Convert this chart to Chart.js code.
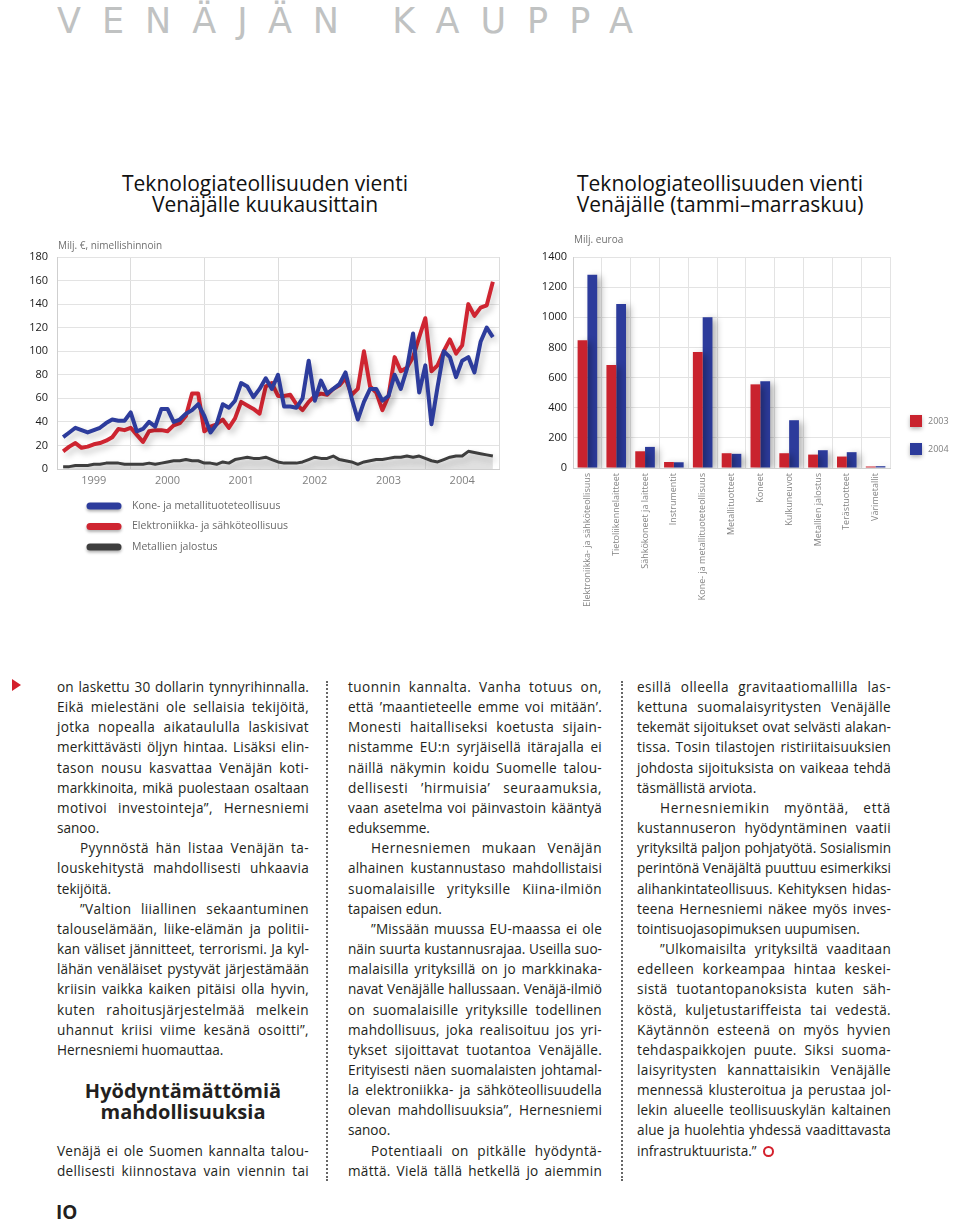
<!DOCTYPE html>
<html lang="fi">
<head>
<meta charset="utf-8">
<title>Venäjän kauppa</title>
<script src="https://cdn.jsdelivr.net/npm/chart.js@4.4.1/dist/chart.umd.min.js"></script>
<style>
html, body { margin: 0; padding: 0; background: #fff; }
body { width: 960px; height: 1221px; position: relative; overflow: hidden; font-family: 'Open Sans', sans-serif; color: #231f20; }
.abs { position: absolute; }
#kicker { left: 57px; top: 1px; font-family: 'DejaVu Sans', sans-serif; font-size: 35px; line-height: 40px; letter-spacing: 21px; color: #c0c2c2; white-space: nowrap; }
.ctitle { font-size: 21px; font-weight: 500; line-height: 21px; text-align: center; width: 440px; color: #111; }
.col { font-size: 13.6px; line-height: 20.17px; }
.ln { white-space: nowrap; height: 20.17px; }
.ln span { display: inline-block; white-space: nowrap; }
.head { font-size: 20px; font-weight: 700; line-height: 21px; text-align: center; width: 252px; }
.dots { width: 0; border-left: 2px dotted #666; }
.ring { display: inline-block; width: 7px; height: 7px; border: 2.5px solid #d4202c; border-radius: 50%; margin-left: 6px; vertical-align: -1px; }
</style>
</head>
<body>

<div id="kicker" class="abs">VENÄJÄN KAUPPA</div>

<div class="abs ctitle" style="left:45px; top:173px;">Teknologiateollisuuden vienti<br>Venäjälle kuukausittain</div>
<div class="abs ctitle" style="left:500px; top:173px;">Teknologiateollisuuden vienti<br>Venäjälle (tammi–marraskuu)</div>

<div class="abs" style="left:0; top:230px; width:520px; height:330px;"><canvas id="lineChart"></canvas></div>
<div class="abs" style="left:520px; top:230px; width:440px; height:400px;"><canvas id="barChart"></canvas></div>

<div class="abs" style="left:12px; top:679px; width:0; height:0; border-left:9px solid #d4202c; border-top:6px solid transparent; border-bottom:6px solid transparent;"></div>

<div id="col1a" class="abs col" style="left:57px; top:677px; width:252px;"></div>
<div class="abs head" style="left:57px; top:1080px;">Hyödyntämättömiä<br>mahdollisuuksia</div>
<div id="col1b" class="abs col" style="left:57px; top:1141px; width:252px;"></div>
<div id="col2" class="abs col" style="left:348px; top:677px; width:254px;"></div>
<div id="col3" class="abs col" style="left:637px; top:677px; width:254px;"></div>

<div class="abs dots" style="left:326px; top:681px; height:500px;"></div>
<div class="abs dots" style="left:621px; top:681px; height:500px;"></div>

<div class="abs" style="left:56px; top:1200px; font-size:19px; font-weight:700; line-height:24px;">IO</div>

<script>
// ---- kuukausiviennin data (milj. €), tammi 1999 – marras 2004 ----
const years = ['1999', '2000', '2001', '2002', '2003', '2004'];

const koneMetalli = [
    27, 31, 35, 33, 31, 33, 35, 39, 42, 41, 41, 48,
    32, 34, 40, 36, 51, 51, 40, 42, 47, 50, 55, 45,
    31, 38, 55, 52, 58, 73, 70, 61, 68, 77, 68, 80,
    53, 53, 52, 60, 92, 58, 75, 64, 68, 72, 82, 60,
    42, 57, 68, 68, 58, 62, 80, 68, 85, 115, 65, 88,
    38, 70, 100, 95, 78, 92, 95, 82, 108, 120, 112
];
const elektroniikka = [
    15, 19, 22, 18, 19, 21, 22, 24, 27, 34, 33, 35,
    29, 23, 32, 33, 33, 32, 37, 39, 45, 64, 64, 32,
    36, 38, 42, 35, 43, 57, 54, 51, 47, 70, 73, 62,
    62, 63, 55, 50, 57, 62, 64, 63, 68, 71, 77, 63,
    68, 100, 70, 65, 50, 62, 95, 83, 86, 95, 112, 128,
    83, 88, 100, 110, 98, 105, 140, 130, 137, 139, 159
];
const metallienJalostus = [
    2, 2, 3, 3, 3, 4, 4, 5, 5, 5, 4, 4,
    4, 4, 5, 4, 5, 6, 7, 7, 8, 7, 7, 5,
    5, 4, 6, 5, 8, 9, 10, 9, 9, 10, 8, 6,
    5, 5, 5, 6, 8, 10, 9, 9, 11, 8, 7, 6,
    4, 6, 7, 8, 8, 9, 10, 10, 11, 10, 11, 9,
    7, 6, 8, 10, 11, 11, 15, 14, 13, 12, 11
];

// ---- toimialoittain (milj. euroa) ----
const toimialat = [
    'Elektroniikka- ja sähköteollisuus', 'Tietoliikennelaitteet', 'Sähkökoneet ja laitteet',
    'Instrumentit', 'Kone- ja metallituoteteollisuus', 'Metallituotteet', 'Koneet',
    'Kulkuneuvot', 'Metallien jalostus', 'Terästuotteet', 'Värimetallit'
];
const vienti2003 = [847, 684, 111, 40, 769, 98, 555, 98, 89, 76, 10];
const vienti2004 = [1282, 1088, 140, 38, 1001, 94, 575, 317, 118, 105, 12];

const yTicksLeft = [0, 20, 40, 60, 80, 100, 120, 140, 160, 180];
const yTicksRight = [0, 200, 400, 600, 800, 1000, 1200, 1400];

Chart.defaults.font.family = "'Open Sans', sans-serif";
Chart.defaults.animation = false;

const toPoints = arr => arr.map((v, i) => ({ x: i + 1, y: v }));

// pehmeä varjo viivoille ja pylväille
const softShadow = {
    id: 'softShadow',
    beforeDatasetsDraw(chart, args, opts) {
        const ctx = chart.ctx;
        ctx.save();
        ctx.shadowColor = opts.color || 'rgba(0,0,0,0.25)';
        ctx.shadowBlur = opts.blur || 6;
        ctx.shadowOffsetX = opts.dx || 3;
        ctx.shadowOffsetY = opts.dy || 3;
    },
    afterDatasetsDraw(chart) {
        chart.ctx.restore();
    }
};

// yksikköteksti kuva-alueen yläpuolelle
const unitLabel = {
    id: 'unitLabel',
    afterDraw(chart, args, opts) {
        if (!opts.text) return;
        const { ctx, chartArea } = chart;
        ctx.save();
        ctx.fillStyle = '#707070';
        ctx.font = "10px 'Open Sans', sans-serif";
        ctx.textBaseline = 'middle';
        ctx.fillText(opts.text, chartArea.left + 1, chartArea.top + opts.dy);
        ctx.restore();
    }
};

// selite viivakaavion alle
const lineLegend = {
    id: 'lineLegend',
    afterDraw(chart) {
        const { ctx, chartArea } = chart;
        ctx.save();
        chart.data.datasets.forEach((ds, i) => {
            const y = chartArea.bottom + 37 + i * 20.5;
            ctx.shadowColor = 'rgba(0,0,0,0.3)';
            ctx.shadowBlur = 3;
            ctx.shadowOffsetY = 2;
            ctx.strokeStyle = ds.borderColor;
            ctx.lineWidth = 7;
            ctx.lineCap = 'round';
            ctx.beginPath();
            ctx.moveTo(chartArea.left + 33, y);
            ctx.lineTo(chartArea.left + 61, y);
            ctx.stroke();
            ctx.shadowColor = 'transparent';
            ctx.fillStyle = '#6a6a6a';
            ctx.font = "10.5px 'Open Sans', sans-serif";
            ctx.textBaseline = 'middle';
            ctx.fillText(ds.label, chartArea.left + 75, y);
        });
        ctx.restore();
    }
};

// selite pylväskaavion oikealle puolelle
const sideLegend = {
    id: 'sideLegend',
    afterDraw(chart) {
        const { ctx, chartArea } = chart;
        ctx.save();
        chart.data.datasets.forEach((ds, i) => {
            const y = chartArea.bottom - 47 + i * 28;
            ctx.shadowColor = 'rgba(0,0,0,0.3)';
            ctx.shadowBlur = 4;
            ctx.shadowOffsetY = 2;
            ctx.fillStyle = ds.backgroundColor;
            ctx.fillRect(chartArea.right + 20, y - 6, 12, 12);
            ctx.shadowColor = 'transparent';
            ctx.fillStyle = '#808080';
            ctx.font = "9px 'Open Sans', sans-serif";
            ctx.textBaseline = 'middle';
            ctx.fillText(ds.label, chartArea.right + 38, y);
        });
        ctx.restore();
    }
};

new Chart(document.getElementById('lineChart'), {
    type: 'line',
    data: {
        datasets: [
            { label: 'Kone- ja metallituoteteollisuus', data: toPoints(koneMetalli), borderColor: '#2d3c9c', borderWidth: 4 },
            { label: 'Elektroniikka- ja sähköteollisuus', data: toPoints(elektroniikka), borderColor: '#cf2531', borderWidth: 4 },
            { label: 'Metallien jalostus', data: toPoints(metallienJalostus), borderColor: '#3e3e3e', borderWidth: 3,
              fill: 'origin', backgroundColor: 'rgba(200,200,200,0.35)' }
        ]
    },
    options: {
        responsive: true,
        maintainAspectRatio: false,
        layout: { padding: { top: 27, right: 21, bottom: 65, left: 0 } },
        elements: { point: { radius: 0 }, line: { tension: 0, borderJoinStyle: 'round' } },
        plugins: {
            legend: { display: false },
            tooltip: { enabled: false },
            softShadow: { color: 'rgba(0,0,0,0.22)', blur: 6, dx: 3, dy: 4 },
            unitLabel: { text: 'Milj. €, nimellishinnoin', dy: -11 }
        },
        scales: {
            x: {
                type: 'linear', min: 0, max: 72,
                afterBuildTicks: s => { s.ticks = Array.from({ length: 13 }, (_, k) => ({ value: k * 6 })); },
                afterFit: s => { s.height = 26; },
                ticks: {
                    autoSkip: false, maxRotation: 0, padding: 5, color: '#808080',
                    font: { size: 11 },
                    callback: v => (v % 12 === 6 ? years[(v - 6) / 12] : '')
                },
                grid: { drawTicks: false, color: c => (c.tick && c.tick.value % 12 === 0 ? '#dcdcdc' : 'transparent') },
                border: { color: '#cfcfcf' }
            },
            y: {
                min: 0, max: 180,
                afterBuildTicks: s => { s.ticks = yTicksLeft.map(v => ({ value: v })); },
                afterFit: s => { s.width = 57; },
                ticks: { padding: 9, color: '#1a1a1a', font: { size: 11 }, callback: v => String(v) },
                grid: { drawTicks: false, color: '#e3e3e3' },
                border: { color: '#cfcfcf' }
            }
        }
    },
    plugins: [softShadow, unitLabel, lineLegend]
});

new Chart(document.getElementById('barChart'), {
    type: 'bar',
    data: {
        labels: toimialat,
        datasets: [
            { label: '2003', data: vienti2003, backgroundColor: '#c9232e' },
            { label: '2004', data: vienti2004, backgroundColor: '#2c3b9b' }
        ]
    },
    options: {
        responsive: true,
        maintainAspectRatio: false,
        layout: { padding: { top: 27, right: 70, bottom: 5, left: 0 } },
        datasets: { bar: { categoryPercentage: 0.68, barPercentage: 1.0 } },
        plugins: {
            legend: { display: false },
            tooltip: { enabled: false },
            softShadow: { color: 'rgba(0,0,0,0.3)', blur: 7, dx: 4, dy: 2 },
            unitLabel: { text: 'Milj. euroa', dy: -17 }
        },
        scales: {
            x: {
                afterFit: s => { s.height = 157; },
                ticks: { autoSkip: false, minRotation: 90, maxRotation: 90, padding: 5, color: '#858585', font: { size: 9 } },
                grid: { drawTicks: false, color: '#e3e3e3' },
                border: { color: '#cfcfcf' }
            },
            y: {
                min: 0, max: 1400,
                afterBuildTicks: s => { s.ticks = yTicksRight.map(v => ({ value: v })); },
                afterFit: s => { s.width = 53; },
                ticks: { padding: 6, color: '#1a1a1a', font: { size: 11 }, callback: v => String(v) },
                grid: { drawTicks: false, color: '#e3e3e3' },
                border: { color: '#cfcfcf' }
            }
        }
    },
    plugins: [softShadow, unitLabel, sideLegend]
});

// ---- leipäteksti: '>' = sisennys, '|' = kappaleen viimeinen rivi ----
const col1a = [
    'on laskettu 30 dollarin tynnyrihinnalla.',
    'Eikä mielestäni ole sellaisia tekijöitä,',
    'jotka nopealla aikataululla laskisivat',
    'merkittävästi öljyn hintaa. Lisäksi elin-',
    'tason nousu kasvattaa Venäjän koti-',
    'markkinoita, mikä puolestaan osaltaan',
    'motivoi investointeja”, Hernesniemi',
    'sanoo.|',
    '>Pyynnöstä hän listaa Venäjän ta-',
    'louskehitystä mahdollisesti uhkaavia',
    'tekijöitä.|',
    '>”Valtion liiallinen sekaantuminen',
    'talouselämään, liike-elämän ja politii-',
    'kan väliset jännitteet, terrorismi. Ja kyl-',
    'lähän venäläiset pystyvät järjestämään',
    'kriisin vaikka kaiken pitäisi olla hyvin,',
    'kuten rahoitusjärjestelmää melkein',
    'uhannut kriisi viime kesänä osoitti”,',
    'Hernesniemi huomauttaa.|'
];
const col1b = [
    'Venäjä ei ole Suomen kannalta talou-',
    'dellisesti kiinnostava vain viennin tai'
];
const col2 = [
    'tuonnin kannalta. Vanha totuus on,',
    'että ’maantieteelle emme voi mitään’.',
    'Monesti haitalliseksi koetusta sijain-',
    'nistamme EU:n syrjäisellä itärajalla ei',
    'näillä näkymin koidu Suomelle talou-',
    'dellisesti ’hirmuisia’ seuraamuksia,',
    'vaan asetelma voi päinvastoin kääntyä',
    'eduksemme.|',
    '>Hernesniemen mukaan Venäjän',
    'alhainen kustannustaso mahdollistaisi',
    'suomalaisille yrityksille Kiina-ilmiön',
    'tapaisen edun.|',
    '>”Missään muussa EU-maassa ei ole',
    'näin suurta kustannusrajaa. Useilla suo-',
    'malaisilla yrityksillä on jo markkinaka-',
    'navat Venäjälle hallussaan. Venäjä-ilmiö',
    'on suomalaisille yrityksille todellinen',
    'mahdollisuus, joka realisoituu jos yri-',
    'tykset sijoittavat tuotantoa Venäjälle.',
    'Erityisesti näen suomalaisten johtamal-',
    'la elektroniikka- ja sähköteollisuudella',
    'olevan mahdollisuuksia”, Hernesniemi',
    'sanoo.|',
    '>Potentiaali on pitkälle hyödyntä-',
    'mättä. Vielä tällä hetkellä jo aiemmin'
];
const col3 = [
    'esillä olleella gravitaatiomallilla las-',
    'kettuna suomalaisyritysten Venäjälle',
    'tekemät sijoitukset ovat selvästi alakan-',
    'tissa. Tosin tilastojen ristiriitaisuuksien',
    'johdosta sijoituksista on vaikeaa tehdä',
    'täsmällistä arviota.|',
    '>Hernesniemikin myöntää, että',
    'kustannuseron hyödyntäminen vaatii',
    'yrityksiltä paljon pohjatyötä. Sosialismin',
    'perintönä Venäjältä puuttuu esimerkiksi',
    'alihankintateollisuus. Kehityksen hidas-',
    'teena Hernesniemi näkee myös inves-',
    'tointisuojasopimuksen uupumisen.|',
    '>”Ulkomaisilta yrityksiltä vaaditaan',
    'edelleen korkeampaa hintaa keskei-',
    'sistä tuotantopanoksista kuten säh-',
    'köstä, kuljetustariffeista tai vedestä.',
    'Käytännön esteenä on myös hyvien',
    'tehdaspaikkojen puute. Siksi suoma-',
    'laisyritysten kannattaisikin Venäjälle',
    'mennessä klusteroitua ja perustaa jol-',
    'lekin alueelle teollisuuskylän kaltainen',
    'alue ja huolehtia yhdessä vaadittavasta',
    'infrastruktuurista.”|'
];

// tasaus: osa väljyydestä kirjainväleihin, loput sanaväleihin
function layoutColumn(id, lines) {
    const el = document.getElementById(id);
    const width = el.clientWidth;
    const spans = [];
    lines.forEach(raw => {
        const indent = raw.startsWith('>');
        const last = raw.endsWith('|');
        const txt = raw.replace(/^>/, '').replace(/\|$/, '');
        const div = document.createElement('div');
        div.className = 'ln';
        if (indent) div.style.paddingLeft = '23px';
        const span = document.createElement('span');
        span.textContent = txt;
        div.appendChild(span);
        el.appendChild(div);
        const avail = width - (indent ? 23 : 0);
        let w = span.getBoundingClientRect().width;
        const gaps = txt.split(' ').length - 1;
        if (w > avail) {
            span.style.transformOrigin = 'left center';
            span.style.transform = 'scaleX(' + (avail / w) + ')';
        } else if (!last && gaps > 0) {
            const ls = Math.min((avail - w) * 0.5 / txt.length, 0.7);
            span.style.letterSpacing = ls + 'px';
            w = span.getBoundingClientRect().width;
            span.style.wordSpacing = Math.max(0, (avail - w) / gaps) + 'px';
        }
        spans.push(span);
    });
    return spans;
}

layoutColumn('col1a', col1a);
layoutColumn('col1b', col1b);
layoutColumn('col2', col2);
const s3 = layoutColumn('col3', col3);
const ring = document.createElement('span');
ring.className = 'ring';
s3[s3.length - 1].appendChild(ring);
</script>
</body>
</html>
